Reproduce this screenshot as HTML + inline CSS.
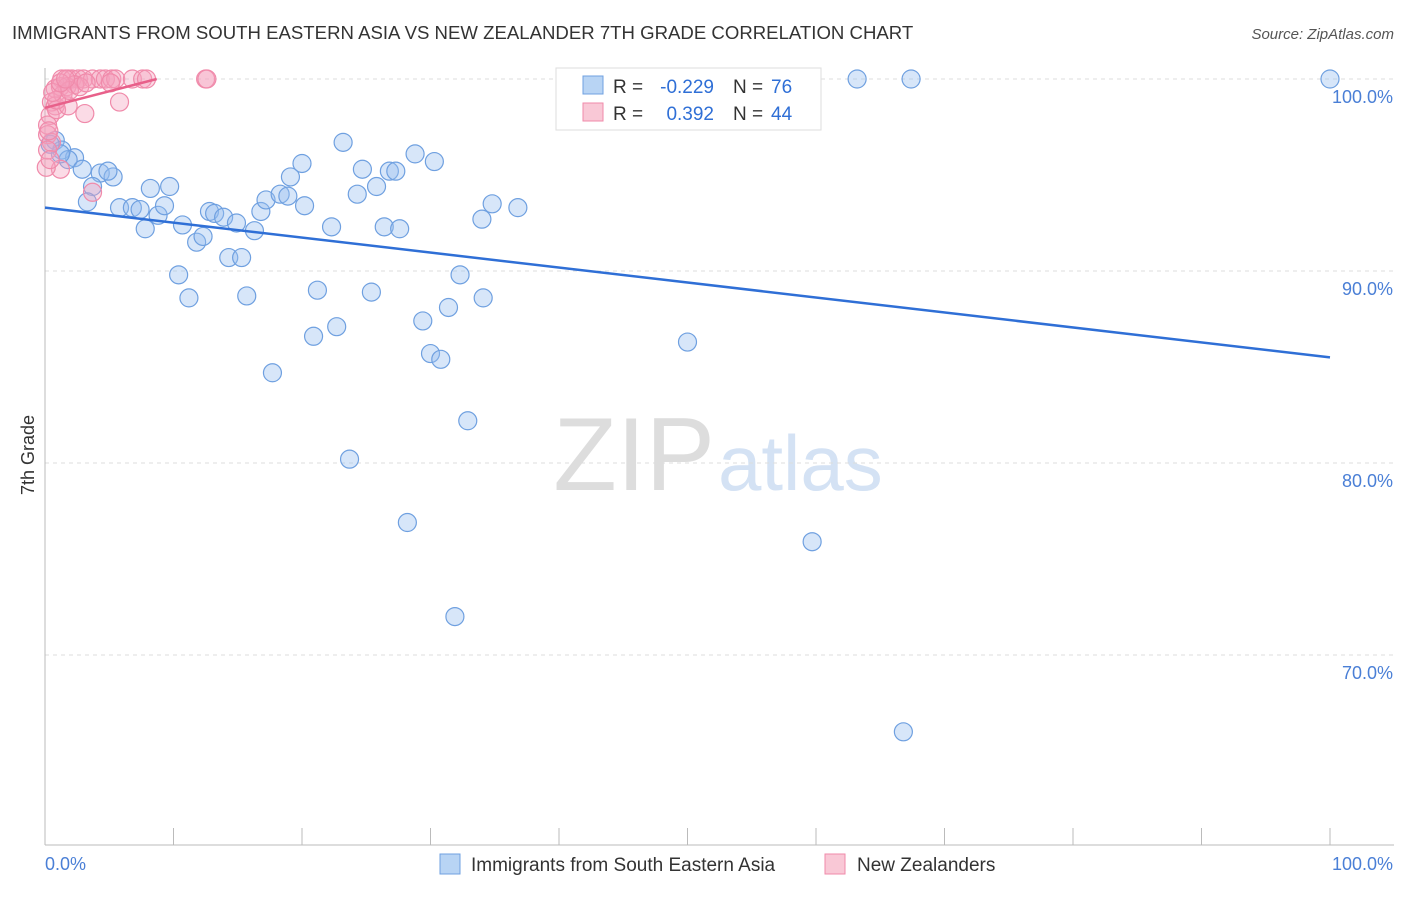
<!DOCTYPE html>
<html><head><meta charset="utf-8">
<style>
body{margin:0;background:#fff;font-family:"Liberation Sans",sans-serif;}
svg text{font-family:"Liberation Sans",sans-serif;}
</style></head>
<body>
<svg id="chart" width="1406" height="892" viewBox="0 0 1406 892" xmlns="http://www.w3.org/2000/svg">
<text x="12" y="39" font-size="18.6" fill="#333">IMMIGRANTS FROM SOUTH EASTERN ASIA VS NEW ZEALANDER 7TH GRADE CORRELATION CHART</text>
<text x="1394" y="39" font-size="15" fill="#555" text-anchor="end" font-style="italic">Source: ZipAtlas.com</text>
<text x="34" y="455" font-size="18" fill="#333" text-anchor="middle" transform="rotate(-90 34 455)">7th Grade</text>
<text x="715" y="490" font-size="104" fill="#ddd" text-anchor="end" font-family="Liberation Serif">ZIP</text>
<text x="718" y="490" font-size="78" fill="#d4e2f4">atlas</text>
<g id="grid"></g>
<g id="axes"></g>
<g id="pts"></g>
<g id="lines"></g>
<g>
<rect x="556" y="68" width="265" height="62" fill="#fff" stroke="#ddd"/>
<rect x="583" y="76" width="20" height="18" fill="#b8d4f4" stroke="#6fa0e0"/>
<text x="613" y="93" font-size="19" fill="#333">R =</text>
<text x="714" y="93" font-size="19" fill="#2f6fd6" text-anchor="end">-0.229</text>
<text x="733" y="93" font-size="19" fill="#333">N =</text>
<text x="771" y="93" font-size="19" fill="#2f6fd6">76</text>
<rect x="583" y="103" width="20" height="18" fill="#f9c8d6" stroke="#f08aaa"/>
<text x="613" y="120" font-size="19" fill="#333">R =</text>
<text x="714" y="120" font-size="19" fill="#2f6fd6" text-anchor="end">0.392</text>
<text x="733" y="120" font-size="19" fill="#333">N =</text>
<text x="771" y="120" font-size="19" fill="#2f6fd6">44</text>
</g>
<g>
<rect x="440" y="854" width="20" height="20" fill="#b8d4f4" stroke="#6fa0e0"/>
<text x="471" y="871" font-size="19" fill="#333">Immigrants from South Eastern Asia</text>
<rect x="825" y="854" width="20" height="20" fill="#f9c8d6" stroke="#f08aaa"/>
<text x="857" y="871" font-size="19" fill="#333">New Zealanders</text>
</g>
</svg>
<script>
const blueX=[43.2,63.2,67.4,100,0.8,1.3,2.3,1.8,2.9,4.3,5.3,4.9,3.7,3.3,5.8,6.8,7.4,8.2,9.7,7.8,8.8,9.3,10.4,10.7,11.2,11.8,12.3,12.8,13.2,13.9,14.3,14.9,15.3,15.7,16.3,16.8,17.2,17.7,18.3,18.9,19.1,20.0,20.2,20.9,21.2,22.3,22.7,23.2,23.7,24.3,24.7,25.4,25.8,26.4,26.8,27.3,27.6,28.2,28.8,29.4,30.0,30.3,30.8,31.4,31.9,32.3,32.9,34.1,34.0,34.8,36.8,50.0,59.7,66.8,1.2,0.4];
const blueY=[100,100,100,100,96.8,96.3,95.9,95.8,95.3,95.1,94.9,95.2,94.4,93.6,93.3,93.3,93.2,94.3,94.4,92.2,92.9,93.4,89.8,92.4,88.6,91.5,91.8,93.1,93.0,92.8,90.7,92.5,90.7,88.7,92.1,93.1,93.7,84.7,94.0,93.9,94.9,95.6,93.4,86.6,89.0,92.3,87.1,96.7,80.2,94.0,95.3,88.9,94.4,92.3,95.2,95.2,92.2,76.9,96.1,87.4,85.7,95.7,85.4,88.1,72.0,89.8,82.2,88.6,92.7,93.5,93.3,86.3,75.9,66.0,96.1,96.6];
const pinkX=[1.3,1.8,2.1,2.6,3.0,3.7,4.3,4.7,5.2,5.5,6.8,7.6,7.9,12.5,12.6,0.8,1.2,1.7,2.3,0.5,0.8,0.4,0.2,0.2,0.5,0.9,1.8,3.1,5.8,1.2,0.1,3.7,1.4,0.9,0.2,0.3,1.9,2.7,3.2,0.6,1.2,0.4,5.1,1.6];
const pinkY=[100,100,100,100,100,100,100,100,100,100,100,100,100,100,100,99.5,99.6,99.6,99.7,98.8,98.6,98.1,97.6,97.1,96.7,98.4,98.6,98.2,98.8,95.3,95.4,94.1,99.2,98.9,96.3,97.3,99.4,99.6,99.8,99.3,99.8,95.8,99.8,100];
const yTicks=[100,90,80,70];
const blueTrend=[93.3,85.5];
const pinkTrend=[98.5,100,8.7];
const NS="http://www.w3.org/2000/svg";
function sx(v){return 45+v*12.85;}
function sy(v){return 79+(100-v)*19.2;}
function mk(tag,attrs,parent){const e=document.createElementNS(NS,tag);for(const k in attrs)e.setAttribute(k,attrs[k]);parent.appendChild(e);return e;}
const grid=document.getElementById('grid'),axes=document.getElementById('axes'),pts=document.getElementById('pts'),lines=document.getElementById('lines');
yTicks.forEach(t=>{
  const l=mk('line',{x1:45,x2:1394,y1:sy(t),y2:sy(t),stroke:'#ddd','stroke-dasharray':'4,4'},grid);
  
  
  const tx=mk('text',{x:1393,y:sy(t)+24,'font-size':18,fill:'#4a7fd6','text-anchor':'end'},axes);
  tx.textContent=t.toFixed(1)+'%';
  
  
});
const ax=mk('line',{x1:45,x2:45,y1:68,y2:845,stroke:'#bbb'},axes);


const bx=mk('line',{x1:45,x2:1394,y1:845,y2:845,stroke:'#bbb'},axes);


for(let i=0;i<=10;i++){const t=mk('line',{x1:sx(i*10),x2:sx(i*10),y1:828,y2:845,stroke:'#bbb'},axes);

}
[[0,'0.0%','start',45],[100,'100.0%','end',1393]].forEach(d=>{const t=mk('text',{x:d[3],y:870,'font-size':18,fill:'#4a7fd6','text-anchor':d[2]},axes);t.textContent=d[1];

});
blueX.forEach((x,i)=>{const c=mk('circle',{cx:sx(x),cy:sy(blueY[i]),r:9,fill:'rgba(150,190,240,0.38)',stroke:'#6fa0e0','stroke-width':1.2},pts);

});
pinkX.forEach((x,i)=>{const c=mk('circle',{cx:sx(x),cy:sy(pinkY[i]),r:9,fill:'rgba(245,160,190,0.38)',stroke:'#f08aaa','stroke-width':1.2},pts);

});
const bl=mk('line',{x1:sx(0),y1:sy(blueTrend[0]),x2:sx(100),y2:sy(blueTrend[1]),stroke:'#2f6fd6','stroke-width':2.5},lines);


const pl=mk('line',{x1:sx(0),y1:sy(pinkTrend[0]),x2:sx(pinkTrend[2]),y2:sy(pinkTrend[1]),stroke:'#e8608a','stroke-width':2.5},lines);


</script>
</body></html>
